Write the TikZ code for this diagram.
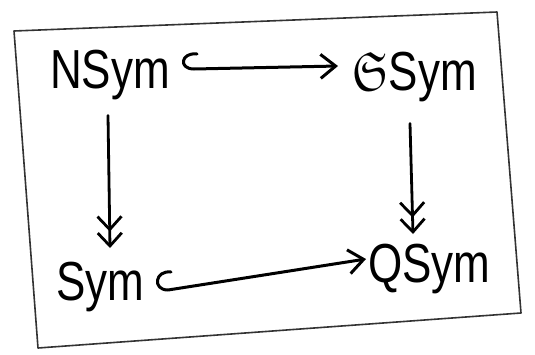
\documentclass[tikz,border=0pt]{standalone}
\usepackage{amssymb}
\usepackage{fontspec}
\setmainfont{Liberation Sans}
\usetikzlibrary{arrows.meta}
\tikzset{
  obj/.style={inner sep=0pt, anchor=base west, font=\fontsize{44}{48}\selectfont},
  inj/.style={line width=3pt, line cap=round, line join=round,
    -{Straight Barb[length=15pt,width=24pt,line width=3pt]}},
  surj/.style={line width=2.8pt, line cap=round,
    -{Straight Barb[length=13pt,width=24pt,line width=2.8pt] Straight Barb[length=13pt,width=24pt,line width=2.8pt]}},
  frame/.style={line width=1.6pt, draw=black!80, line join=round}
}
\newcommand{\tall}[1]{\scalebox{1}[1.25]{#1}}
\begin{document}
\begin{tikzpicture}[x=1pt,y=-1pt]
  \useasboundingbox (0,0) rectangle (535,354);
  % sheet outline
  \draw[frame] (14,31) -- (497,12) -- (521,313) -- (38,348) -- cycle;
  % the four algebras
  \node[obj] (nsym) at (50,88)  {\tall{NSym}};
  \node[obj] (gsym) at (352,90) {\tall{$\mathfrak{S}$Sym}};
  \node[obj] (sym)  at (56,300) {\tall{Sym}};
  \node[obj] (qsym) at (368,282){\tall{QSym}};
  % arrow ends: hook tip, hook foot, head
  \coordinate (h1) at (197,54);  \coordinate (a1) at (194,69);  \coordinate (b1) at (338,66);
  \coordinate (h2) at (171,272); \coordinate (a2) at (168,290); \coordinate (b2) at (366,259);
  % inclusions, each starting with a hook
  \draw[inj] (h1) .. controls +(-16,-2) and +(-16,0) .. (a1) -- (b1);
  \draw[inj] (h2) .. controls +(-16,-2) and +(-16,0) .. (a2) -- (b2);
  % surjections
  \draw[surj] (nsym.south -| 108,0) ++(0,16) coordinate (c1) -- (110,248) coordinate (d1);
  \draw[surj] (gsym.south -| 410,0) ++(0,22) coordinate (c2) -- (413,234) coordinate (d2);
\end{tikzpicture}
\end{document}
